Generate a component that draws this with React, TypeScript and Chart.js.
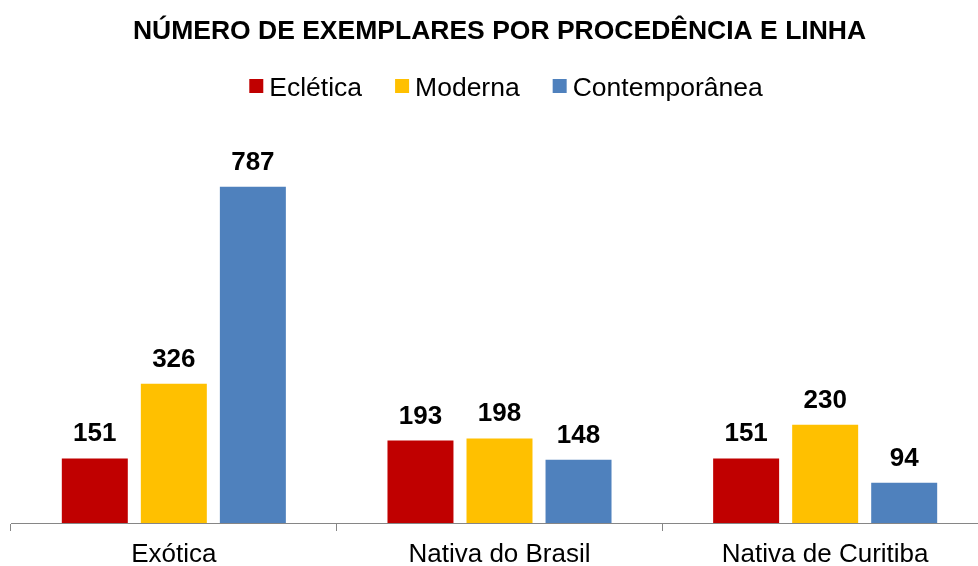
import React, { useEffect, useRef } from "react";
import { Chart, registerables } from "chart.js";

Chart.register(...registerables);

const categories = ["Exótica", "Nativa do Brasil", "Nativa de Curitiba"];
const seriesNames = ["Eclética", "Moderna", "Contemporânea"];
const ecletica = [151, 193, 151];
const moderna = [326, 198, 230];
const contemporanea = [787, 148, 94];
const seriesColors = ["#C00000", "#FFC000", "#4F81BD"];
const chartTitle = "NÚMERO DE EXEMPLARES POR PROCEDÊNCIA E LINHA";

const FONT = "'Liberation Sans', Arial, Helvetica, sans-serif";

// Draws the value above each bar in bold
const barValueLabels = {
  id: "barValueLabels",
  afterDatasetsDraw(chart: any) {
    const { ctx } = chart;
    ctx.save();
    ctx.font = `bold 26px ${FONT}`;
    ctx.fillStyle = "#000000";
    ctx.textAlign = "center";
    ctx.textBaseline = "alphabetic";
    chart.data.datasets.forEach((ds: any, i: number) => {
      const meta = chart.getDatasetMeta(i);
      meta.data.forEach((bar: any, j: number) => {
        ctx.fillText(String(ds.data[j]), bar.x, bar.y - 17);
      });
    });
    ctx.restore();
  },
};

// Compact legend row: square swatch followed closely by the series name
const compactLegend = {
  id: "compactLegend",
  afterDraw(chart: any) {
    const { ctx } = chart;
    const box = 14;
    const boxGap = 6;
    const itemGap = 33;
    const baseline = 96;
    ctx.save();
    ctx.font = `26.5px ${FONT}`;
    ctx.textBaseline = "alphabetic";
    ctx.textAlign = "left";
    const items = chart.data.datasets.map((ds: any) => ({
      text: ds.label as string,
      color: ds.backgroundColor as string,
      w: ctx.measureText(ds.label).width,
    }));
    const total =
      items.reduce((s: number, it: any) => s + box + boxGap + it.w, 0) +
      itemGap * (items.length - 1);
    let x = chart.width / 2 + 6 - total / 2;
    items.forEach((it: any) => {
      ctx.fillStyle = it.color;
      ctx.fillRect(x, baseline - 17, box, box);
      ctx.fillStyle = "#000000";
      ctx.fillText(it.text, x + box + boxGap, baseline);
      x += box + boxGap + it.w + itemGap;
    });
    ctx.restore();
  },
};

export default function App() {
  const canvasRef = useRef<HTMLCanvasElement | null>(null);

  useEffect(() => {
    document.body.style.margin = "0";
    document.body.style.overflow = "hidden";
    const canvas = canvasRef.current;
    if (!canvas) return;
    const allSeries = [ecletica, moderna, contemporanea];
    const chart = new Chart(canvas, {
      type: "bar",
      data: {
        labels: categories,
        datasets: seriesNames.map((name, i) => ({
          label: name,
          data: allSeries[i],
          backgroundColor: seriesColors[i],
          borderWidth: 0,
          categoryPercentage: 0.728,
          barPercentage: 0.835,
        })),
      },
      options: {
        responsive: false,
        animation: false,
        layout: { padding: { left: 11, right: 12, top: 0, bottom: 0 } },
        plugins: {
          title: {
            display: true,
            text: chartTitle,
            color: "#000000",
            font: { family: FONT, size: 26.5, weight: "bold" },
            padding: { top: 16, bottom: 62 },
          },
          legend: { display: false },
          tooltip: { enabled: false },
        },
        scales: {
          x: {
            grid: {
              display: true,
              drawOnChartArea: false,
              drawTicks: true,
              tickLength: 8,
              color: "#868686",
              lineWidth: 1,
            },
            border: { display: true, color: "#868686", width: 1 },
            ticks: {
              color: "#000000",
              font: { family: FONT, size: 26 },
              padding: 8,
              maxRotation: 0,
            },
            afterFit(scale: any) {
              scale.height = 43;
            },
          },
          y: {
            display: false,
            min: 0,
            max: 967,
          },
        },
      },
      plugins: [barValueLabels, compactLegend],
    });
    return () => chart.destroy();
  }, []);

  return (
    <div
      style={{
        position: "fixed",
        left: 0,
        top: 0,
        width: 978,
        height: 566,
        overflow: "hidden",
        background: "#ffffff",
      }}
    >
      <canvas ref={canvasRef} width={1000} height={566} style={{ display: "block" }} />
    </div>
  );
}
